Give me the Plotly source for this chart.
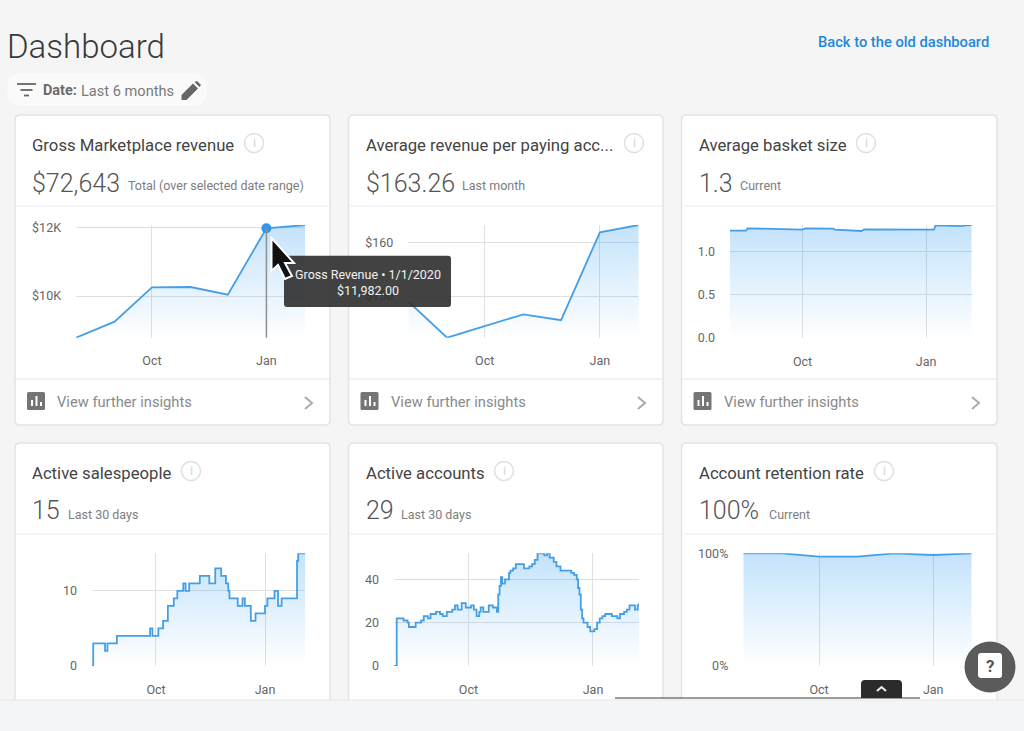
import plotly.graph_objects as go

W, H = 1024, 731

# data ----------------------------------------------------------------------
month_dates = ["2019-08-01", "2019-09-01", "2019-10-01", "2019-11-01", "2019-12-01", "2020-01-01", "2020-02-01"]
gross_values = [8780, 9249, 10254, 10263, 10039, 11982, 12078]
arpa_values = [149.0, 142.24, 144.4, 146.6, 145.5, 161.9, 163.26]
retention_values = [100, 100, 97, 97, 100, 98.5, 100]

basket_dates = ["2019-08-08", "2019-08-20", "2019-08-21", "2019-09-05", "2019-10-01", "2019-10-03",
                "2019-10-24", "2019-10-25", "2019-11-04", "2019-11-14", "2019-11-16", "2019-12-04",
                "2020-01-07", "2020-01-08", "2020-01-27", "2020-01-31", "2020-02-04"]
basket_values = [1.238, 1.238, 1.264, 1.261, 1.249, 1.264, 1.261, 1.249, 1.241, 1.234, 1.253, 1.253,
                 1.249, 1.299, 1.291, 1.299, 1.303]

sales_dates = ["2019-08-08", "2019-08-09", "2019-08-19", "2019-08-21", "2019-08-29", "2019-09-26", "2019-09-28",
               "2019-10-03", "2019-10-07", "2019-10-11", "2019-10-16", "2019-10-19", "2019-10-24", "2019-10-26",
               "2019-10-29", "2019-11-07", "2019-11-15", "2019-11-20", "2019-11-25", "2019-11-29", "2019-12-01",
               "2019-12-02", "2019-12-09", "2019-12-13", "2019-12-15", "2019-12-20", "2019-12-24", "2020-01-01",
               "2020-01-03", "2020-01-09", "2020-01-12", "2020-01-15", "2020-01-28", "2020-01-29", "2020-02-04"]
sales_values = [0, 3, 2, 3, 4, 5, 4, 5, 6, 8, 9, 10, 11, 10, 11, 12, 11, 13, 12, 11, 10, 9, 8, 9, 8, 6, 7, 8,
                9, 10, 8, 9, 14, 15, 15]

accounts_dates = ["2019-08-07", "2019-08-09", "2019-08-12", "2019-08-14", "2019-08-17", "2019-08-18", "2019-08-23",
                  "2019-08-27", "2019-08-29", "2019-09-01", "2019-09-03", "2019-09-07", "2019-09-10", "2019-09-12",
                  "2019-09-15", "2019-09-19", "2019-09-21", "2019-09-23", "2019-09-26", "2019-09-29", "2019-10-03",
                  "2019-10-05", "2019-10-07", "2019-10-09", "2019-10-10", "2019-10-12", "2019-10-16", "2019-10-19",
                  "2019-10-22", "2019-10-23", "2019-10-24", "2019-10-25", "2019-10-26", "2019-10-28", "2019-10-31",
                  "2019-11-01", "2019-11-03", "2019-11-05", "2019-11-08", "2019-11-11", "2019-11-15", "2019-11-17",
                  "2019-11-19", "2019-11-21", "2019-11-26", "2019-11-28", "2019-11-30", "2019-12-03", "2019-12-05",
                  "2019-12-08", "2019-12-13", "2019-12-16", "2019-12-18", "2019-12-20", "2019-12-21", "2019-12-22",
                  "2019-12-23", "2019-12-24", "2019-12-25", "2019-12-28", "2019-12-30", "2020-01-02", "2020-01-04",
                  "2020-01-06", "2020-01-08", "2020-01-10", "2020-01-15", "2020-01-19", "2020-01-21", "2020-01-24",
                  "2020-01-26", "2020-01-28", "2020-02-01", "2020-02-03", "2020-02-04"]
accounts_values = [0, 22, 22, 21, 20, 18, 20, 21, 23, 22, 24, 25, 24, 23, 25, 26, 28, 26, 29, 27, 28, 26, 23, 25,
                   27, 25, 28, 27, 25, 33, 37, 41, 38, 40, 43, 44, 45, 47, 47, 45, 46, 47, 49, 52, 51, 52, 50,
                   48, 46, 44, 44, 43, 42, 40, 36, 33, 26, 22, 20, 18, 16, 17, 20, 22, 23, 24, 23, 22, 24, 25,
                   26, 28, 26, 28, 29]

x_tickvals = ["2019-10-01", "2020-01-01"]
x_ticktext = ["Oct", "Jan"]

# pixel helpers -------------------------------------------------------------
def px(x):
    return x / W


def py(y):
    return 1 - y / H


def poly(points):
    return "M" + " L".join(f"{px(x):.5f},{py(y):.5f}" for x, y in points) + " Z"


def line(points):
    return "M" + " L".join(f"{px(x):.5f},{py(y):.5f}" for x, y in points)


def round_rect(x0, y0, x1, y1, r, top_only=False):
    rb = 0 if top_only else r
    p = lambda x, y: f"{px(x):.5f},{py(y):.5f}"
    return (f"M{p(x0 + r, y0)} L{p(x1 - r, y0)} Q{p(x1, y0)} {p(x1, y0 + r)} L{p(x1, y1 - rb)} Q{p(x1, y1)} {p(x1 - rb, y1)} "
            f"L{p(x0 + rb, y1)} Q{p(x0, y1)} {p(x0, y1 - rb)} L{p(x0, y0 + r)} Q{p(x0, y0)} {p(x0 + r, y0)} Z")


fig = go.Figure()
BORDER = "#e3e3e3"
GRID = "#e0e0e0"
LINE = "#469fe6"


def shape_path(path, fill=None, color=None, width=0, layer="below"):
    fig.add_shape(type="path", path=path, xref="paper", yref="paper", layer=layer,
                  fillcolor=fill or "rgba(0,0,0,0)", line=dict(color=color or "rgba(0,0,0,0)", width=width))


def shape_circle(cx, cy, r, fill=None, color=None, width=0, layer="below"):
    fig.add_shape(type="circle", xref="paper", yref="paper", layer=layer,
                  x0=px(cx - r), x1=px(cx + r), y0=py(cy + r), y1=py(cy - r),
                  fillcolor=fill or "rgba(0,0,0,0)", line=dict(color=color or "rgba(0,0,0,0)", width=width))


def label(x, y, text, size, color="#444", anchor="left", weight=400, family="Roboto"):
    fig.add_annotation(x=px(x), y=py(y), xref="paper", yref="paper", text=text, showarrow=False,
                       xanchor=anchor, yanchor="middle", borderpad=0, borderwidth=0,
                       font=dict(family=family, size=size, color=color, weight=weight))


# cards ----------------------------------------------------------------------
def card(x0, y0, x1, y1, title, info_x, value, note, note_x, footer=True):
    shape_path(round_rect(x0, y0, x1, y1, 5), fill="white", color=BORDER, width=1.5)
    shape_path(line([(x0, y0 + 91), (x1, y0 + 91)]), color="#ececec", width=1)
    label(x0 + 17, y0 + 30, title, 16.7, "#444")
    shape_circle(info_x, y0 + 28, 9.5, color="#e0e0e0", width=1.5)
    label(info_x, y0 + 28, "i", 13, "#d8d8d8", anchor="center")
    label(x0 + 17, y0 + 68, value, 25, "#555", weight=300)
    label(note_x, y0 + 71, note, 12.5, "#7d7d7d")
    if footer:
        shape_path(line([(x0, y0 + 264), (x1, y0 + 264)]), color="#e4e4e4", width=1)
        ix = x0 + 12
        shape_path(round_rect(ix, y0 + 277, ix + 18, y0 + 295, 1.5), fill="#757575")
        for bx, by in [(ix + 4, y0 + 285), (ix + 8.5, y0 + 281), (ix + 13, y0 + 287)]:
            shape_path(poly([(bx, by), (bx + 2, by), (bx + 2, y0 + 291), (bx, y0 + 291)]), fill="white")
        label(x0 + 42, y0 + 287, "View further insights", 14.7, "#8a8a8a")
        shape_path(line([(x1 - 25, y0 + 282), (x1 - 18, y0 + 288), (x1 - 25, y0 + 294)]), color="#ababab", width=2)


card(15, 115, 330, 425, "Gross Marketplace revenue", 254, "$72,643", "Total (over selected date range)", 128)
card(348.5, 115, 663, 425, "Average revenue per paying acc...", 634, "$163.26", "Last month", 462)
card(681.5, 115, 997, 425, "Average basket size", 866, "1.3", "Current", 740)
card(15, 443, 330, 710, "Active salespeople", 191, "15", "Last 30 days", 68, footer=False)
card(348.5, 443, 663, 710, "Active accounts", 504, "29", "Last 30 days", 401, footer=False)
card(681.5, 443, 997, 710, "Account retention rate", 884, "100%", "Current", 769, footer=False)

# charts ---------------------------------------------------------------------
panels = [
    (month_dates, gross_values, (76, 305, 225, 337.7), [10000, 12000], ["$10K", "$12K"], "linear"),
    (month_dates, arpa_values, (408.3, 638.7, 225, 337.7), [150, 160], ["$150", "$160"], "linear"),
    (basket_dates, basket_values, (730, 971.7, 225, 338), [0, 0.5, 1], ["0.0", "0.5", "1.0"], "linear"),
    (sales_dates, sales_values, (92, 305.3, 553.3, 666), [0, 10], ["0", "10"], "hv"),
    (accounts_dates, accounts_values, (394, 639, 553.3, 666), [0, 20, 40], ["0", "20", "40"], "hv"),
    (month_dates, retention_values, (743.3, 971.7, 553.3, 666), [0, 100], ["0%", "100%"], "linear"),
]

for i, (dates, values, box, yticks, ylabels, shape) in enumerate(panels, start=1):
    x0, x1, top, bottom = box
    suffix = "" if i == 1 else str(i)
    low = min(min(values), 0) if 0 in yticks else min(values)
    high = max(values)
    fig.add_trace(go.Scatter(
        x=dates, y=values, mode="lines", xaxis=f"x{suffix}", yaxis=f"y{suffix}",
        line=dict(color=LINE, width=1.8, shape=shape),
        fill="tozeroy",
        fillgradient=dict(type="vertical", start=high, stop=low,
                          colorscale=[[0, "rgba(33,150,243,0.27)"], [1, "rgba(33,150,243,0)"]]),
        showlegend=False, cliponaxis=False,
    ))
    fig.update_layout({
        f"xaxis{suffix}": dict(domain=[px(x0), px(x1)], range=[dates[0], dates[-1]], type="date",
                               anchor=f"y{suffix}", tickvals=x_tickvals, ticktext=x_ticktext,
                               showgrid=True, gridcolor=GRID, gridwidth=1, zeroline=False, ticks="",
                               ticklabelstandoff=14, tickfont=dict(family="Roboto", size=12.5, color="#666")),
        f"yaxis{suffix}": dict(domain=[py(bottom), py(top)], range=[low, high], anchor=f"x{suffix}",
                               tickvals=yticks, ticktext=ylabels, showgrid=True, gridcolor=GRID, gridwidth=1,
                               zeroline=False, ticks="", ticklabelstandoff=14,
                               tickfont=dict(family="Roboto", size=12.5, color="#666")),
    })

# hovered point on the first chart --------------------------------------------
hover_i = month_dates.index("2020-01-01")
fig.add_shape(type="line", xref="x", yref="y", x0=month_dates[hover_i], x1=month_dates[hover_i],
              y0=min(gross_values), y1=gross_values[hover_i], line=dict(color="#8f8f8f", width=1.5))
fig.add_trace(go.Scatter(x=[month_dates[hover_i]], y=[gross_values[hover_i]], mode="markers", xaxis="x", yaxis="y",
                         marker=dict(color="#2f96ea", size=10), showlegend=False, cliponaxis=False))

# tooltip and cursor
shape_path(round_rect(284, 255.7, 451, 307, 3), fill="rgba(45,45,45,0.9)", layer="above")
label(367.5, 274, "Gross Revenue • 1/1/2020", 12.5, "#f2f2f2", anchor="center")
label(367.5, 290, f"${gross_values[hover_i]:,.2f}", 12.5, "#f2f2f2", anchor="center")
shape_path(poly([(271.5, 238), (271.5, 271), (278, 265), (285, 279), (292, 276), (285, 263), (294, 263)]),
           fill="#111", color="white", width=2, layer="above")

# page chrome -----------------------------------------------------------------
label(7, 47, "Dashboard", 33, "#3a3a3a", weight=300)
label(818, 42, "Back to the old dashboard", 14.7, "#1f88d9", weight=500)
shape_path(round_rect(7, 73, 207, 106, 16), fill="#fafafa")
for lx0, lx1, ly in [(17, 36, 84), (20.5, 32.5, 90), (24, 29, 95.5)]:
    shape_path(line([(lx0, ly), (lx1, ly)]), color="#666", width=1.8)
label(43, 90.5, "<b>Date:</b>", 14.4, "#6a6a6a")
label(81, 90.5, "Last 6 months", 14.6, "#7a7a7a")
shape_path(poly([(181.5, 100), (181.5, 95), (193, 83.5), (198, 88.5), (186.5, 100)]), fill="#666")
shape_path(poly([(194.5, 82), (197, 81), (201, 85), (199.5, 87)]), fill="#666")

# strip at the bottom of the window
shape_path(poly([(0, 700), (W, 700), (W, H), (0, H)]), fill="#f3f5f6", layer="above")
shape_path(line([(0, 700), (W, 700)]), color="#e6e6e6", width=1, layer="above")
shape_path(line([(615, 698), (920, 698)]), color="#7a7a7a", width=1.5, layer="above")
shape_path(round_rect(861, 680, 902, 698, 4, top_only=True), fill="#2b2b2b", layer="above")
shape_path(line([(877, 691), (881.5, 687), (886, 691)]), color="#eeeeee", width=2, layer="above")
shape_circle(990, 667, 25.5, fill="#5b5b5b", layer="above")
shape_path(round_rect(978, 653, 1002, 678, 3), fill="white", layer="above")
label(990, 666, "<b>?</b>", 17, "#555", anchor="center")

fig.update_layout(width=W, height=H, margin=dict(l=0, r=0, t=0, b=0, autoexpand=False), autosize=False,
                  paper_bgcolor="#f5f5f5", plot_bgcolor="rgba(0,0,0,0)", showlegend=False)

fig.write_html("out.html", post_script="document.body.style.margin='0';", config={"displayModeBar": False})
